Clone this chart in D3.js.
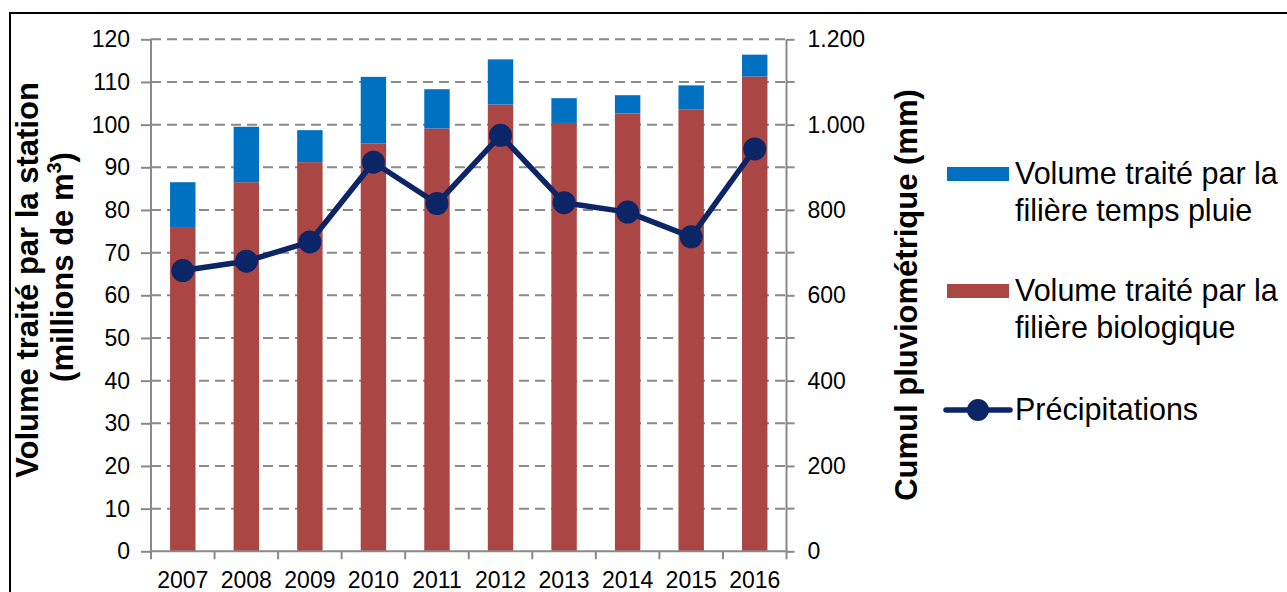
<!DOCTYPE html>
<html>
<head>
<meta charset="utf-8">
<script src="https://cdn.jsdelivr.net/npm/d3@7"></script>
<style>
  html, body { margin: 0; padding: 0; background: #fff; }
  svg { display: block; font-family: "Liberation Sans", Arial, sans-serif; }
</style>
</head>
<body>
<svg id="chart" width="1287" height="592"></svg>
<script>
// Annual volumes treated by the plant (millions of m³) and rainfall (mm)
const years = ["2007", "2008", "2009", "2010", "2011", "2012", "2013", "2014", "2015", "2016"];
const bioVolume = [76, 86.5, 91.2, 95.6, 99.1, 104.7, 100.4, 102.6, 103.6, 111.3];
const rainVolume = [10.5, 13, 7.5, 15.6, 9.2, 10.6, 5.8, 4.3, 5.6, 5.1];
const rainfall = [658, 680, 725, 912, 815, 975, 817, 795, 737, 943];
const leftTicks = [0, 10, 20, 30, 40, 50, 60, 70, 80, 90, 100, 110, 120];
const rightTicks = [0, 200, 400, 600, 800, 1000, 1200];

const colors = { rain: "#0070c0", bio: "#aa4643", line: "#0b2566", grid: "#898989", axis: "#898989" };

const svg = d3.select("#chart");
const plot = { left: 151, right: 786.5, top: 39.3, bottom: 551.3 };

// outer frame
svg.append("rect")
  .attr("x", 10).attr("y", 13).attr("width", 1300).attr("height", 600)
  .attr("fill", "none").attr("stroke", "#000").attr("stroke-width", 2);

const x = d3.scaleBand().domain(years).range([plot.left, plot.right]).paddingInner(0.6).paddingOuter(0.3);
const yL = d3.scaleLinear().domain([0, 120]).range([plot.bottom, plot.top]);
const yR = d3.scaleLinear().domain([0, 1200]).range([plot.bottom, plot.top]);

// dashed horizontal gridlines
svg.append("g").selectAll("line").data(leftTicks.filter(d => d > 0)).join("line")
  .attr("x1", plot.left).attr("x2", plot.right)
  .attr("y1", d => yL(d)).attr("y2", d => yL(d))
  .attr("stroke", colors.grid).attr("stroke-width", 2).attr("stroke-dasharray", "10,6");

// stacked bars
const stackData = years.map((y, i) => ({ year: y, bio: bioVolume[i], rain: rainVolume[i] }));
const series = d3.stack().keys(["bio", "rain"])(stackData);
svg.append("g").selectAll("g").data(series).join("g")
  .attr("fill", d => colors[d.key])
  .selectAll("rect").data(d => d).join("rect")
  .attr("x", d => x(d.data.year))
  .attr("width", x.bandwidth())
  .attr("y", d => yL(d[1]))
  .attr("height", d => yL(d[0]) - yL(d[1]));

// axes
const fontSize = 23;
const leftAxis = svg.append("g").attr("transform", `translate(${plot.left},0)`)
  .call(d3.axisLeft(yL).tickValues(leftTicks).tickSize(10).tickPadding(11));
const rightAxis = svg.append("g").attr("transform", `translate(${plot.right},0)`)
  .call(d3.axisRight(yR).tickValues(rightTicks).tickSize(8).tickPadding(13)
    .tickFormat(d => d3.format(",")(d).replace(/,/g, ".")));
// minor ticks on the right axis between labelled values
rightAxis.append("g").selectAll("line").data(d3.range(100, 1200, 200)).join("line")
  .attr("x1", 0).attr("x2", 8).attr("y1", d => yR(d)).attr("y2", d => yR(d))
  .attr("stroke", colors.axis).attr("stroke-width", 2);

const bottomAxis = svg.append("g").attr("transform", `translate(0,${plot.bottom})`)
  .call(d3.axisBottom(x).tickSize(0).tickPadding(20));
bottomAxis.append("g").selectAll("line").data(d3.range(0, years.length + 1)).join("line")
  .attr("x1", i => plot.left + i * x.step()).attr("x2", i => plot.left + i * x.step())
  .attr("y1", 0).attr("y2", 8)
  .attr("stroke", colors.axis).attr("stroke-width", 2);

[leftAxis, rightAxis, bottomAxis].forEach(g => {
  g.selectAll(".domain").attr("stroke", colors.axis).attr("stroke-width", 2);
  g.selectAll(".tick line").attr("stroke", colors.axis).attr("stroke-width", 2);
  g.selectAll("text").attr("font-size", fontSize).attr("fill", "#000")
    .attr("font-family", "'Liberation Sans', Arial, sans-serif");
});
leftAxis.select(".domain").attr("d", `M0,${plot.top}V${plot.bottom}`);
rightAxis.select(".domain").attr("d", `M0,${plot.top}V${plot.bottom}`);
bottomAxis.select(".domain").attr("d", `M${plot.left},0H${plot.right}`);

// rainfall line with markers
const cx = i => x(years[i]) + x.bandwidth() / 2;
svg.append("path")
  .datum(rainfall)
  .attr("fill", "none").attr("stroke", colors.line).attr("stroke-width", 5.5)
  .attr("stroke-linejoin", "round")
  .attr("d", d3.line().x((d, i) => cx(i)).y(d => yR(d)));
svg.append("g").selectAll("circle").data(rainfall).join("circle")
  .attr("cx", (d, i) => cx(i)).attr("cy", d => yR(d)).attr("r", 11.5)
  .attr("fill", colors.line);

// axis titles
const titleFont = 31;
svg.append("text")
  .attr("transform", `translate(38,280) rotate(-90)`)
  .attr("text-anchor", "middle").attr("font-weight", "bold").attr("font-size", titleFont)
  .text("Volume traité par la station");
const l2 = svg.append("text")
  .attr("transform", `translate(73,267) rotate(-90)`)
  .attr("text-anchor", "middle").attr("font-weight", "bold").attr("font-size", titleFont);
l2.append("tspan").text("(millions de m");
l2.append("tspan").attr("font-size", 20).attr("dy", -12).text("3");
l2.append("tspan").attr("dy", 12).text(")");

svg.append("text")
  .attr("transform", `translate(917,295) rotate(-90)`)
  .attr("text-anchor", "middle").attr("font-weight", "bold").attr("font-size", titleFont)
  .text("Cumul pluviométrique (mm)");

// legend
const legend = svg.append("g").attr("font-size", 30.5);
const items = [
  { type: "bar", color: colors.rain, lines: ["Volume traité par la", "filière temps pluie"], y: 174 },
  { type: "bar", color: colors.bio, lines: ["Volume traité par la", "filière biologique"], y: 291 },
  { type: "line", color: colors.line, lines: ["Précipitations"], y: 410 }
];
items.forEach(it => {
  const g = legend.append("g");
  if (it.type === "bar") {
    g.append("rect").attr("x", 947).attr("y", it.y - 7).attr("width", 62).attr("height", 14).attr("fill", it.color);
  } else {
    g.append("line").attr("x1", 946).attr("x2", 1010).attr("y1", it.y).attr("y2", it.y)
      .attr("stroke", it.color).attr("stroke-width", 5.5).attr("stroke-linecap", "round");
    g.append("circle").attr("cx", 978).attr("cy", it.y).attr("r", 11).attr("fill", it.color);
  }
  it.lines.forEach((t, k) => {
    g.append("text").attr("x", 1015).attr("y", it.y + 10 + k * 37).text(t);
  });
});
</script>
</body>
</html>
